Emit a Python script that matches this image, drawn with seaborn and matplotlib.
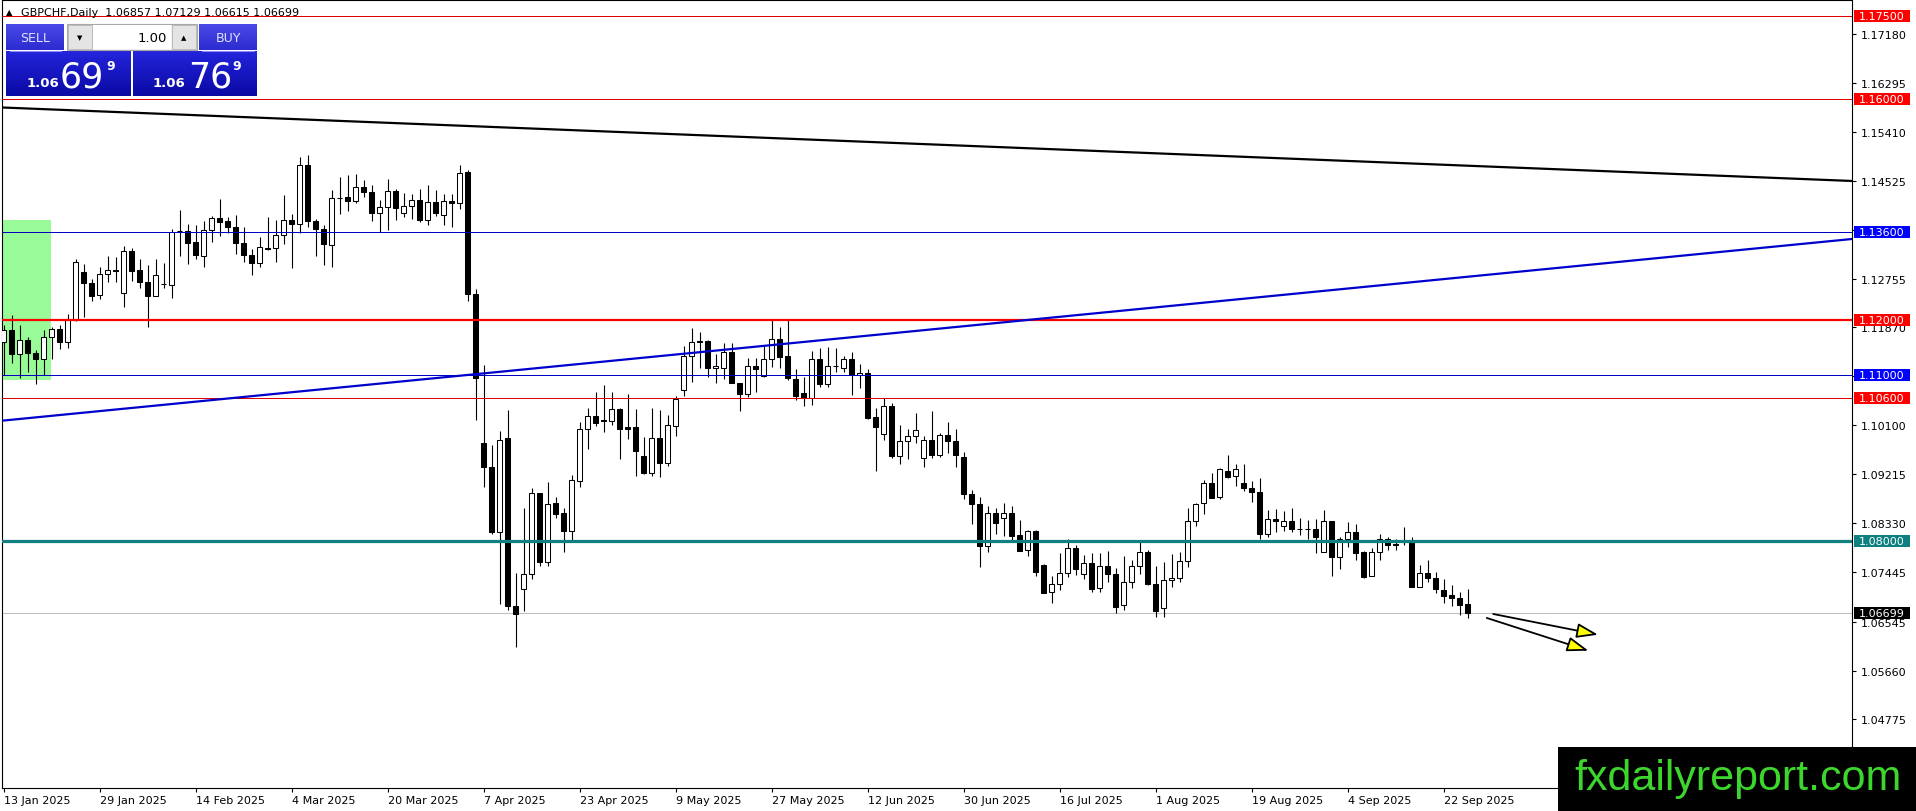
import numpy as np
import pandas as pd
import matplotlib
matplotlib.use('Agg')
import matplotlib.pyplot as plt
import matplotlib.transforms as mtransforms
from matplotlib.patches import Rectangle, FancyArrowPatch
from matplotlib.colors import LinearSegmentedColormap
import seaborn as sns

# GBPCHF daily bars, 13 Jan 2025 .. 25 Sep 2025
symbol = 'GBPCHF,Daily'
open_ = [1.1160, 1.1182, 1.1138, 1.1165, 1.1140, 1.1129, 1.1169, 1.1185, 1.1160, 1.1201,
         1.1288, 1.1268, 1.1245, 1.1284, 1.1290, 1.1249, 1.1326, 1.1290, 1.1270, 1.1244,
         1.1266, 1.1264, 1.1361, 1.1362, 1.1341, 1.1317, 1.1364, 1.1385, 1.1379, 1.1369,
         1.1339, 1.1318, 1.1304, 1.1331, 1.1331, 1.1355, 1.1382, 1.1374, 1.1481, 1.1380,
         1.1365, 1.1337, 1.1422, 1.1423, 1.1415, 1.1441, 1.1432, 1.1394, 1.1405, 1.1434,
         1.1394, 1.1407, 1.1418, 1.1381, 1.1414, 1.1391, 1.1416, 1.1412, 1.1468, 1.1248,
         1.0977, 1.0934, 1.0817, 1.0987, 1.0683, 1.0714, 1.0741, 1.0887, 1.0762, 1.0869,
         1.0851, 1.0818, 1.0909, 1.1004, 1.1026, 1.1020, 1.1017, 1.1040, 1.1007, 1.1007,
         1.0954, 1.0924, 1.0986, 1.0942, 1.1009, 1.1073, 1.1136, 1.1163, 1.1163, 1.1114,
         1.1114, 1.1143, 1.1086, 1.1067, 1.1118, 1.1099, 1.1129, 1.1166, 1.1135, 1.1094,
         1.1069, 1.1060, 1.1130, 1.1085, 1.1118, 1.1114, 1.1130, 1.1100, 1.1105, 1.1024,
         1.0995, 1.1044, 1.0955, 1.0982, 1.0990, 1.0950, 1.0984, 1.0957, 1.0992, 1.0981,
         1.0952, 1.0885, 1.0867, 1.0791, 1.0852, 1.0843, 1.0851, 1.0811, 1.0784, 1.0818,
         1.0757, 1.0708, 1.0723, 1.0742, 1.0787, 1.0741, 1.0760, 1.0715, 1.0756, 1.0741,
         1.0684, 1.0726, 1.0755, 1.0780, 1.0723, 1.0679, 1.0730, 1.0733, 1.0764, 1.0837,
         1.0870, 1.0906, 1.0881, 1.0928, 1.0918, 1.0906, 1.0897, 1.0890, 1.0814, 1.0841,
         1.0828, 1.0836, 1.0823, 1.0823, 1.0822, 1.0781, 1.0836, 1.0771, 1.0805, 1.0816,
         1.0780, 1.0738, 1.0781, 1.0805, 1.0795, 1.0800, 1.0800, 1.0718, 1.0742, 1.0733,
         1.0711, 1.0703, 1.0697, 1.06857]
high_ = [1.1192, 1.1209, 1.1191, 1.1170, 1.1147, 1.1182, 1.1187, 1.1192, 1.1211, 1.1310,
         1.1301, 1.1274, 1.1296, 1.1317, 1.1315, 1.1334, 1.1331, 1.1310, 1.1300, 1.1310,
         1.1304, 1.1365, 1.1400, 1.1374, 1.1373, 1.1379, 1.1389, 1.1420, 1.1387, 1.1391,
         1.1369, 1.1328, 1.1351, 1.1387, 1.1382, 1.1427, 1.1393, 1.1495, 1.1499, 1.1383,
         1.1373, 1.1435, 1.1460, 1.1462, 1.1465, 1.1454, 1.1445, 1.1418, 1.1456, 1.1438,
         1.1430, 1.1428, 1.1438, 1.1444, 1.1435, 1.1429, 1.1429, 1.1481, 1.1472, 1.1257,
         1.1119, 1.0975, 1.0999, 1.1037, 1.0743, 1.0860, 1.0896, 1.0888, 1.0908, 1.0880,
         1.0860, 1.0920, 1.1015, 1.1041, 1.1071, 1.1083, 1.1071, 1.1041, 1.1067, 1.1039,
         1.0988, 1.1042, 1.1037, 1.1029, 1.1063, 1.1153, 1.1186, 1.1179, 1.1165, 1.1138,
         1.1158, 1.1159, 1.1087, 1.1132, 1.1132, 1.1156, 1.1202, 1.1187, 1.1200, 1.1111,
         1.1097, 1.1145, 1.1150, 1.1152, 1.1150, 1.1136, 1.1142, 1.1120, 1.1111, 1.1041,
         1.1059, 1.1051, 1.1010, 1.1004, 1.1033, 1.0990, 1.1035, 1.0996, 1.1016, 1.1003,
         1.0961, 1.0892, 1.0880, 1.0863, 1.0860, 1.0870, 1.0863, 1.0839, 1.0820, 1.0821,
         1.0758, 1.0737, 1.0778, 1.0804, 1.0793, 1.0775, 1.0778, 1.0778, 1.0783, 1.0751,
         1.0774, 1.0766, 1.0798, 1.0785, 1.0756, 1.0763, 1.0777, 1.0780, 1.0860, 1.0870,
         1.0911, 1.0924, 1.0933, 1.0957, 1.0939, 1.0939, 1.0909, 1.0915, 1.0856, 1.0858,
         1.0855, 1.0861, 1.0843, 1.0838, 1.0840, 1.0856, 1.0837, 1.0808, 1.0834, 1.0831,
         1.0783, 1.0787, 1.0814, 1.0808, 1.0805, 1.0825, 1.0808, 1.0757, 1.0766, 1.0745,
         1.0732, 1.0721, 1.0709, 1.07129]
low_ = [1.1100, 1.1123, 1.1095, 1.1106, 1.1084, 1.1100, 1.1130, 1.1148, 1.1150, 1.1199,
        1.1206, 1.1234, 1.1239, 1.1269, 1.1269, 1.1224, 1.1271, 1.1258, 1.1187, 1.1243,
        1.1259, 1.1240, 1.1317, 1.1302, 1.1310, 1.1297, 1.1341, 1.1352, 1.1358, 1.1320,
        1.1305, 1.1281, 1.1296, 1.1327, 1.1305, 1.1338, 1.1295, 1.1358, 1.1368, 1.1316,
        1.1300, 1.1297, 1.1393, 1.1397, 1.1412, 1.1423, 1.1380, 1.1360, 1.1364, 1.1381,
        1.1387, 1.1384, 1.1378, 1.1372, 1.1388, 1.1372, 1.1369, 1.1402, 1.1235, 1.1019,
        1.0898, 1.0813, 1.0687, 1.0675, 1.0609, 1.0674, 1.0731, 1.0755, 1.0755, 1.0842,
        1.0781, 1.0802, 1.0898, 1.0967, 1.1009, 1.0998, 1.1011, 1.0948, 1.0985, 1.0919,
        1.0921, 1.0919, 1.0917, 1.0936, 1.0991, 1.1063, 1.1088, 1.1113, 1.1097, 1.1087,
        1.1094, 1.1086, 1.1036, 1.1061, 1.1070, 1.1098, 1.1116, 1.1114, 1.1092, 1.1056,
        1.1045, 1.1047, 1.1080, 1.1080, 1.1106, 1.1106, 1.1064, 1.1077, 1.1021, 1.0928,
        1.0984, 1.0951, 1.0939, 1.0948, 1.0978, 1.0935, 1.0950, 1.0952, 1.0960, 1.0934,
        1.0876, 1.0832, 1.0753, 1.0780, 1.0813, 1.0810, 1.0800, 1.0783, 1.0773, 1.0738,
        1.0706, 1.0688, 1.0711, 1.0735, 1.0739, 1.0731, 1.0709, 1.0709, 1.0727, 1.0670,
        1.0676, 1.0715, 1.0740, 1.0720, 1.0663, 1.0663, 1.0718, 1.0726, 1.0754, 1.0828,
        1.0849, 1.0878, 1.0876, 1.0915, 1.0900, 1.0891, 1.0871, 1.0804, 1.0807, 1.0817,
        1.0819, 1.0817, 1.0811, 1.0804, 1.0778, 1.0781, 1.0738, 1.0750, 1.0790, 1.0766,
        1.0734, 1.0737, 1.0766, 1.0784, 1.0784, 1.0793, 1.0717, 1.0718, 1.0726, 1.0706,
        1.0688, 1.0683, 1.0667, 1.06615]
close_ = [1.1182, 1.1139, 1.1165, 1.1140, 1.1130, 1.1169, 1.1185, 1.1160, 1.1201, 1.1306,
          1.1267, 1.1243, 1.1284, 1.1290, 1.1289, 1.1326, 1.1289, 1.1269, 1.1244, 1.1281,
          1.1265, 1.1360, 1.1362, 1.1340, 1.1318, 1.1364, 1.1385, 1.1377, 1.1368, 1.1340,
          1.1318, 1.1304, 1.1333, 1.1329, 1.1355, 1.1382, 1.1374, 1.1481, 1.1379, 1.1365,
          1.1338, 1.1421, 1.1421, 1.1415, 1.1441, 1.1432, 1.1394, 1.1405, 1.1434, 1.1403,
          1.1407, 1.1418, 1.1382, 1.1414, 1.1394, 1.1416, 1.1412, 1.1466, 1.1248, 1.1095,
          1.0935, 1.0816, 1.0984, 1.0683, 1.0668, 1.0741, 1.0887, 1.0762, 1.0867, 1.0849,
          1.0818, 1.0910, 1.1004, 1.1026, 1.1014, 1.1017, 1.1040, 1.1004, 1.1004, 1.0964,
          1.0924, 1.0986, 1.0942, 1.1011, 1.1057, 1.1136, 1.1161, 1.1161, 1.1114, 1.1118,
          1.1143, 1.1086, 1.1067, 1.1117, 1.1111, 1.1129, 1.1166, 1.1133, 1.1095, 1.1063,
          1.1060, 1.1130, 1.1085, 1.1118, 1.1117, 1.1130, 1.1100, 1.1105, 1.1023, 1.1006,
          1.1044, 1.0955, 1.0982, 1.0990, 1.1001, 1.0984, 1.0957, 1.0992, 1.0981, 1.0957,
          1.0885, 1.0868, 1.0791, 1.0852, 1.0833, 1.0851, 1.0810, 1.0783, 1.0818, 1.0744,
          1.0707, 1.0723, 1.0742, 1.0787, 1.0750, 1.0760, 1.0714, 1.0756, 1.0741, 1.0681,
          1.0726, 1.0756, 1.0780, 1.0722, 1.0674, 1.0730, 1.0733, 1.0764, 1.0836, 1.0867,
          1.0906, 1.0879, 1.0930, 1.0916, 1.0931, 1.0896, 1.0889, 1.0813, 1.0841, 1.0836,
          1.0836, 1.0823, 1.0822, 1.0822, 1.0807, 1.0836, 1.0771, 1.0805, 1.0816, 1.0778,
          1.0736, 1.0781, 1.0805, 1.0794, 1.0794, 1.0799, 1.0718, 1.0742, 1.0733, 1.0714,
          1.0701, 1.0697, 1.0685, 1.06699]
dates = pd.bdate_range('2025-01-13', periods=len(open_))
ask_price = 1.06769

# horizontal levels drawn on the chart
level_prices = [1.17500, 1.16000, 1.13600, 1.12000, 1.11000, 1.10600, 1.08000]
level_colors = ['#ff0000', '#ff0000', '#0000ff', '#ff0000', '#0000ff', '#ff0000', '#0f8080']
level_line_colors = ['#e00000', '#e00000', '#0000c0', '#ff0000', '#0000c0', '#e00000', '#128080']
level_px = [1, 1, 1, 2.2, 1, 1, 3.2]

# trend lines (bar index, price)
black_trend_x = [-0.2, 231.05]
black_trend_y = [1.1585, 1.1452]
blue_trend_x = [-0.2, 231.05]
blue_trend_y = [1.10182, 1.13470]

# green zone at the left
zone_x = [-1.0, 5.9]
zone_y = [1.10924, 1.13814]

# forecast arrows (start bar, start price, end bar, end price)
arrows = [(186.2, 1.06684, 199.3, 1.06309),
          (185.4, 1.06612, 198.1, 1.06020)]

right_ticks = [1.17180, 1.16295, 1.15410, 1.14525, 1.13640, 1.12755, 1.11870, 1.10985,
               1.10100, 1.09215, 1.08330, 1.07445, 1.06545, 1.05660, 1.04775]

W, H = 1916, 812
sns.set_style('white')
plt.rcParams['font.family'] = ['DejaVu Sans']

fig = plt.figure(figsize=(W / 100, H / 100), dpi=100)
fig.patch.set_facecolor('white')
ax = fig.add_axes([2 / W, (H - 789) / H, 1850 / W, 788 / H])
ax.set_facecolor('white')

ax.add_patch(Rectangle((zone_x[0], zone_y[0]), zone_x[1] - zone_x[0], zone_y[1] - zone_y[0],
                       facecolor='#98fb98', edgecolor='none', zorder=0.6))

# candles
x = np.arange(len(open_))
o = np.array(open_)
c = np.array(close_)
up = c >= o
ax.vlines(x, low_, high_, color='black', lw=0.8, zorder=2)
body_lo = np.minimum(o, c)
body_h = np.maximum(np.abs(c - o), 0.00004)
ax.bar(x[up], body_h[up], bottom=body_lo[up], width=0.55, color='white',
       edgecolor='black', linewidth=0.75, zorder=3)
ax.bar(x[~up], body_h[~up], bottom=body_lo[~up], width=0.55, color='black',
       edgecolor='black', linewidth=0.75, zorder=3)

# levels
for p, col, w in zip(level_prices, level_line_colors, level_px):
    ax.axhline(p, color=col, lw=w * 0.72, zorder=4)
ax.axhline(close_[-1], color='#c0c0c0', lw=0.8, zorder=1.5)

sns.lineplot(x=black_trend_x, y=black_trend_y, ax=ax, color='black', lw=1.6, zorder=4)
sns.lineplot(x=blue_trend_x, y=blue_trend_y, ax=ax, color='#0000cd', lw=1.6, zorder=4)

for x0, y0, x1, y1 in arrows:
    ax.add_patch(FancyArrowPatch((x0, y0), (x1, y1),
                                 arrowstyle='-|>,head_length=13,head_width=4.5',
                                 mutation_scale=1, facecolor='#ffff00', edgecolor='black',
                                 lw=1.3, shrinkA=0, shrinkB=0, zorder=5))

ax.set_xlim(-0.2, 231.05)
ax.set_ylim(1.03535, 1.17795)

tick_idx = list(range(0, len(dates), 12))
ax.set_xticks(tick_idx)
ax.set_xticklabels([f'{d.day} {d:%b %Y}' for d in dates[tick_idx]], ha='left', fontsize=8)
ax.yaxis.tick_right()
ax.set_yticks(right_ticks)
ax.set_yticklabels([f'{v:.5f}' for v in right_ticks], fontsize=8)
ax.tick_params(axis='both', direction='out', length=3, width=0.8, colors='black',
               labelcolor='black', bottom=True, right=True, left=False, top=False,
               labelright=True, labelleft=False)
ax.tick_params(axis='x', pad=2)
ax.tick_params(axis='y', pad=3)
ax.set_xlabel('')
ax.set_ylabel('')
for s in ax.spines.values():
    s.set_color('black')
    s.set_linewidth(0.8)

# price labels on the right scale
trans = mtransforms.blended_transform_factory(ax.transAxes, ax.transData)
box_h = 12 / 5526
box_x = 1.0011
box_w = 56 / 1850
for p, col in zip(level_prices + [close_[-1]], level_colors + ['#000000']):
    ax.add_patch(Rectangle((box_x, p - box_h / 2), box_w, box_h, transform=trans,
                           facecolor=col, edgecolor='none', clip_on=False, zorder=6))
    ax.text(box_x + box_w / 2, p, f'{p:.5f}', transform=trans, ha='center', va='center',
            color='white', fontsize=8, zorder=7, clip_on=False)

# overlay in pixel coordinates for the terminal widgets
ui = fig.add_axes([0, 0, 1, 1], zorder=10)
ui.axis('off')

top_cmap = LinearSegmentedColormap.from_list('top', ['#4a4ae8', '#2c2cd0'])
bot_cmap = LinearSegmentedColormap.from_list('bot', ['#2424dc', '#0a0aa4'])
grad = np.linspace(0, 1, 60).reshape(-1, 1)
for ext, cm in [((6, 64, 51, 25), top_cmap), ((199, 257, 51, 25), top_cmap),
                ((6, 131, 97, 52), bot_cmap), ((133, 257, 97, 52), bot_cmap)]:
    ui.imshow(grad, extent=ext, cmap=cm, aspect='auto', interpolation='bilinear')
for x0, x1 in [(10, 61), (202, 254)]:
    ui.plot([x0, x1], [51.5, 51.5], color='#8a8af2', lw=0.8)

ui.add_patch(Rectangle((67, 25), 130, 26, facecolor='#f2f2f2', edgecolor='#a8a8a8', lw=0.8))
ui.add_patch(Rectangle((93, 26), 78, 24, facecolor='white', edgecolor='none'))
ui.add_patch(Rectangle((68, 26), 24, 24, facecolor='#e4e4e4', edgecolor='#b4b4b4', lw=0.6))
ui.add_patch(Rectangle((172, 26), 24, 24, facecolor='#e4e4e4', edgecolor='#b4b4b4', lw=0.6))
ui.text(80, 38.5, '▼', fontsize=5, ha='center', va='center', color='black')
ui.text(184, 38, '▲', fontsize=5, ha='center', va='center', color='black')
ui.text(167, 38, '1.00', fontsize=9.5, ha='right', va='center', color='black')
ui.text(35, 39, 'SELL', fontsize=9, ha='center', va='center', color='#e2e2ff')
ui.text(228, 39, 'BUY', fontsize=9, ha='center', va='center', color='#e2e2ff')

for price, x_small, x_big, x_sup in [(close_[-1], 27, 60, 106), (ask_price, 153, 188, 232)]:
    s = f'{price:.5f}'
    ui.text(x_small, 87, s[:4], fontsize=9.5, fontweight='bold', color='white', va='baseline')
    ui.text(x_big, 87, s[4:6], fontsize=25, color='white', va='baseline')
    ui.text(x_sup, 70, s[6], fontsize=9, fontweight='bold', color='white', va='baseline')

ohlc_text = ' '.join(f'{v:.5f}' for v in (open_[-1], high_[-1], low_[-1], close_[-1]))
ui.text(6, 13, '▲', fontsize=6, ha='left', va='center', color='black')
ui.text(21, 13, f'{symbol}  {ohlc_text}', fontsize=8, ha='left', va='center', color='black')

ui.add_patch(Rectangle((1558, 748), 358, 64, facecolor='black', edgecolor='none'))
ui.text(1738, 779, 'fxdailyreport.com', fontsize=31, family=['Liberation Sans', 'DejaVu Sans'],
        ha='center', va='center', color='#3cd62c')

ui.set_xlim(0, W)
ui.set_ylim(H, 0)

fig.savefig('out.png', dpi=100)
